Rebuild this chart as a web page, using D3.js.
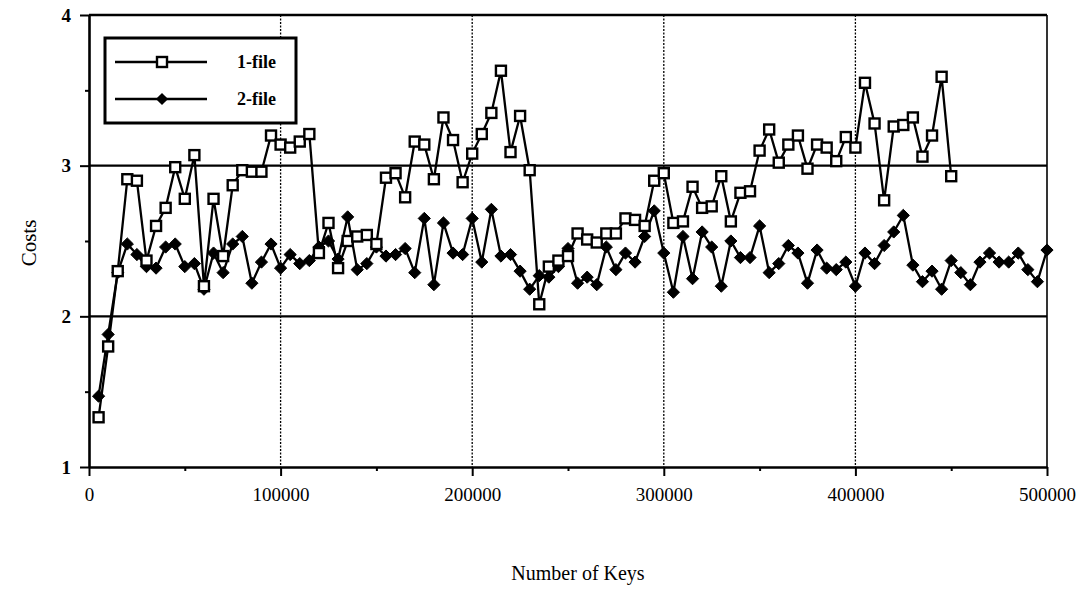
<!DOCTYPE html>
<html>
<head>
<meta charset="utf-8">
<script src="https://cdn.jsdelivr.net/npm/d3@7/dist/d3.min.js"></script>
<style>
  html, body { margin: 0; padding: 0; background: #fff; }
  svg { display: block; }
  text { font-family: "Liberation Serif", "DejaVu Serif", serif; fill: #000; }
</style>
</head>
<body>
<svg id="chart" width="1087" height="591"></svg>
<script>
// ---- data ----
const keys1 = d3.range(5000, 450001, 5000);
const keys2 = d3.range(5000, 500001, 5000);
const oneFile = [
  1.33, 1.80, 2.30, 2.91, 2.90, 2.37, 2.60, 2.72, 2.99, 2.78,
  3.07, 2.20, 2.78, 2.40, 2.87, 2.97, 2.96, 2.96, 3.20, 3.14,
  3.12, 3.16, 3.21, 2.42, 2.62, 2.32, 2.50, 2.53, 2.54, 2.48,
  2.92, 2.95, 2.79, 3.16, 3.14, 2.91, 3.32, 3.17, 2.89, 3.08,
  3.21, 3.35, 3.63, 3.09, 3.33, 2.97, 2.08, 2.33, 2.37, 2.40,
  2.55, 2.51, 2.49, 2.55, 2.55, 2.65, 2.64, 2.60, 2.90, 2.95,
  2.62, 2.63, 2.86, 2.72, 2.73, 2.93, 2.63, 2.82, 2.83, 3.10,
  3.24, 3.02, 3.14, 3.20, 2.98, 3.14, 3.12, 3.03, 3.19, 3.12,
  3.55, 3.28, 2.77, 3.26, 3.27, 3.32, 3.06, 3.20, 3.59, 2.93
];
const twoFile = [
  1.47, 1.88, 2.29, 2.48, 2.41, 2.33, 2.32, 2.46, 2.48, 2.33,
  2.35, 2.18, 2.42, 2.29, 2.48, 2.53, 2.22, 2.36, 2.48, 2.32,
  2.41, 2.35, 2.37, 2.46, 2.50, 2.38, 2.66, 2.31, 2.35, 2.46,
  2.40, 2.41, 2.45, 2.29, 2.65, 2.21, 2.62, 2.42, 2.41, 2.65,
  2.36, 2.71, 2.40, 2.41, 2.30, 2.18, 2.27, 2.26, 2.33, 2.45,
  2.22, 2.26, 2.21, 2.46, 2.31, 2.42, 2.36, 2.53, 2.70, 2.42,
  2.16, 2.53, 2.25, 2.56, 2.46, 2.20, 2.50, 2.39, 2.39, 2.60,
  2.29, 2.35, 2.47, 2.42, 2.22, 2.44, 2.32, 2.31, 2.36, 2.20,
  2.42, 2.35, 2.47, 2.56, 2.67, 2.34, 2.23, 2.30, 2.18, 2.37,
  2.29, 2.21, 2.36, 2.42, 2.36, 2.36, 2.42, 2.31, 2.23, 2.44
];
const seriesNames = ["1-file", "2-file"];
const xMajorTicks = [0, 100000, 200000, 300000, 400000, 500000];
const xMinorTicks = [50000, 150000, 250000, 350000, 450000];
const yMajorTicks = [1, 2, 3, 4];
const yMinorTicks = [1.5, 2.5, 3.5];
const xTitle = "Number of Keys";
const yTitle = "Costs";

// ---- layout ----
const L = 89, R = 1047, T = 15, B = 467;
const svg = d3.select("#chart");
const x = d3.scaleLinear().domain([0, 500000]).range([L, R]);
const y = d3.scaleLinear().domain([1, 4]).range([B, T]);

// vertical gridlines (dotted)
svg.append("g").selectAll("line")
  .data(xMajorTicks.slice(1, -1)).join("line")
  .attr("x1", d => x(d)).attr("x2", d => x(d))
  .attr("y1", T).attr("y2", B)
  .attr("stroke", "#000").attr("stroke-width", 1.3)
  .attr("stroke-dasharray", "2,1.5");

// horizontal gridlines (solid)
svg.append("g").selectAll("line")
  .data([2, 3]).join("line")
  .attr("x1", L).attr("x2", R)
  .attr("y1", d => y(d)).attr("y2", d => y(d))
  .attr("stroke", "#000").attr("stroke-width", 2.4);

// frame top & right
svg.append("line").attr("x1", L).attr("x2", R).attr("y1", T).attr("y2", T)
  .attr("stroke", "#000").attr("stroke-width", 2.6);
svg.append("line").attr("x1", R).attr("x2", R).attr("y1", T).attr("y2", B)
  .attr("stroke", "#000").attr("stroke-width", 1.6);

// axes
function styleAxis(g) {
  g.selectAll(".domain").attr("stroke", "#000").attr("stroke-width", 2.6);
  g.selectAll(".tick line").attr("stroke", "#000").attr("stroke-width", 2);
  g.selectAll("text").attr("font-family", "Liberation Serif, serif").attr("fill", "#000");
}
const yAx = svg.append("g").attr("transform", `translate(${L},0)`)
  .call(d3.axisLeft(y).tickValues(yMajorTicks).tickFormat(d3.format("d"))
    .tickSizeInner(9).tickSizeOuter(0).tickPadding(9));
styleAxis(yAx);
yAx.selectAll("text").attr("font-size", 19).attr("font-weight", "bold");
const yMin = svg.append("g").attr("transform", `translate(${L},0)`)
  .call(d3.axisLeft(y).tickValues(yMinorTicks).tickFormat("").tickSizeInner(4).tickSizeOuter(0));
styleAxis(yMin);
yMin.select(".domain").remove();

const xAx = svg.append("g").attr("transform", `translate(0,${B})`)
  .call(d3.axisBottom(x).tickValues(xMajorTicks).tickFormat(d3.format("d"))
    .tickSizeInner(9).tickSizeOuter(0).tickPadding(12));
styleAxis(xAx);
xAx.selectAll("text").attr("font-size", 19);
const xMin = svg.append("g").attr("transform", `translate(0,${B})`)
  .call(d3.axisBottom(x).tickValues(xMinorTicks).tickFormat("").tickSizeInner(4).tickSizeOuter(0));
styleAxis(xMin);
xMin.select(".domain").remove();

// titles
svg.append("text").attr("x", (L + R) / 2 + 10).attr("y", 580)
  .attr("text-anchor", "middle").attr("font-size", 20).text(xTitle);
svg.append("text").attr("transform", `translate(36,243) rotate(-90)`)
  .attr("text-anchor", "middle").attr("font-size", 21).text(yTitle);

// lines
const line = d3.line().x(d => x(d[0])).y(d => y(d[1]));
const d1 = keys1.map((k, i) => [k, oneFile[i]]);
const d2 = keys2.map((k, i) => [k, twoFile[i]]);

svg.append("path").datum(d2).attr("d", line)
  .attr("fill", "none").attr("stroke", "#000").attr("stroke-width", 2.3);
svg.append("path").datum(d1).attr("d", line)
  .attr("fill", "none").attr("stroke", "#000").attr("stroke-width", 2.3);

const diamond = d3.symbol().type(d3.symbolDiamond2).size(95);
svg.append("g").selectAll("path").data(d2).join("path")
  .attr("transform", d => `translate(${x(d[0])},${y(d[1])})`)
  .attr("d", diamond).attr("fill", "#000").attr("stroke", "#000").attr("stroke-width", 1);

svg.append("g").selectAll("rect").data(d1).join("rect")
  .attr("x", d => x(d[0]) - 5).attr("y", d => y(d[1]) - 5)
  .attr("width", 10).attr("height", 10)
  .attr("fill", "#fff").attr("stroke", "#000").attr("stroke-width", 2.4);

// legend
const lg = svg.append("g");
lg.append("rect").attr("x", 105).attr("y", 38).attr("width", 191).attr("height", 85)
  .attr("fill", "#fff").attr("stroke", "#000").attr("stroke-width", 3);
const legY = [62, 99];
seriesNames.forEach((name, i) => {
  lg.append("line").attr("x1", 115).attr("x2", 207).attr("y1", legY[i]).attr("y2", legY[i])
    .attr("stroke", "#000").attr("stroke-width", 2.6);
  if (i === 0) {
    lg.append("rect").attr("x", 157).attr("y", legY[i] - 5).attr("width", 10).attr("height", 10)
      .attr("fill", "#fff").attr("stroke", "#000").attr("stroke-width", 2.4);
  } else {
    lg.append("path").attr("transform", `translate(162,${legY[i]})`).attr("d", diamond).attr("fill", "#000");
  }
  lg.append("text").attr("x", 237).attr("y", legY[i] + 6).attr("font-size", 18)
    .attr("font-weight", "bold").text(name);
});
</script>
</body>
</html>
